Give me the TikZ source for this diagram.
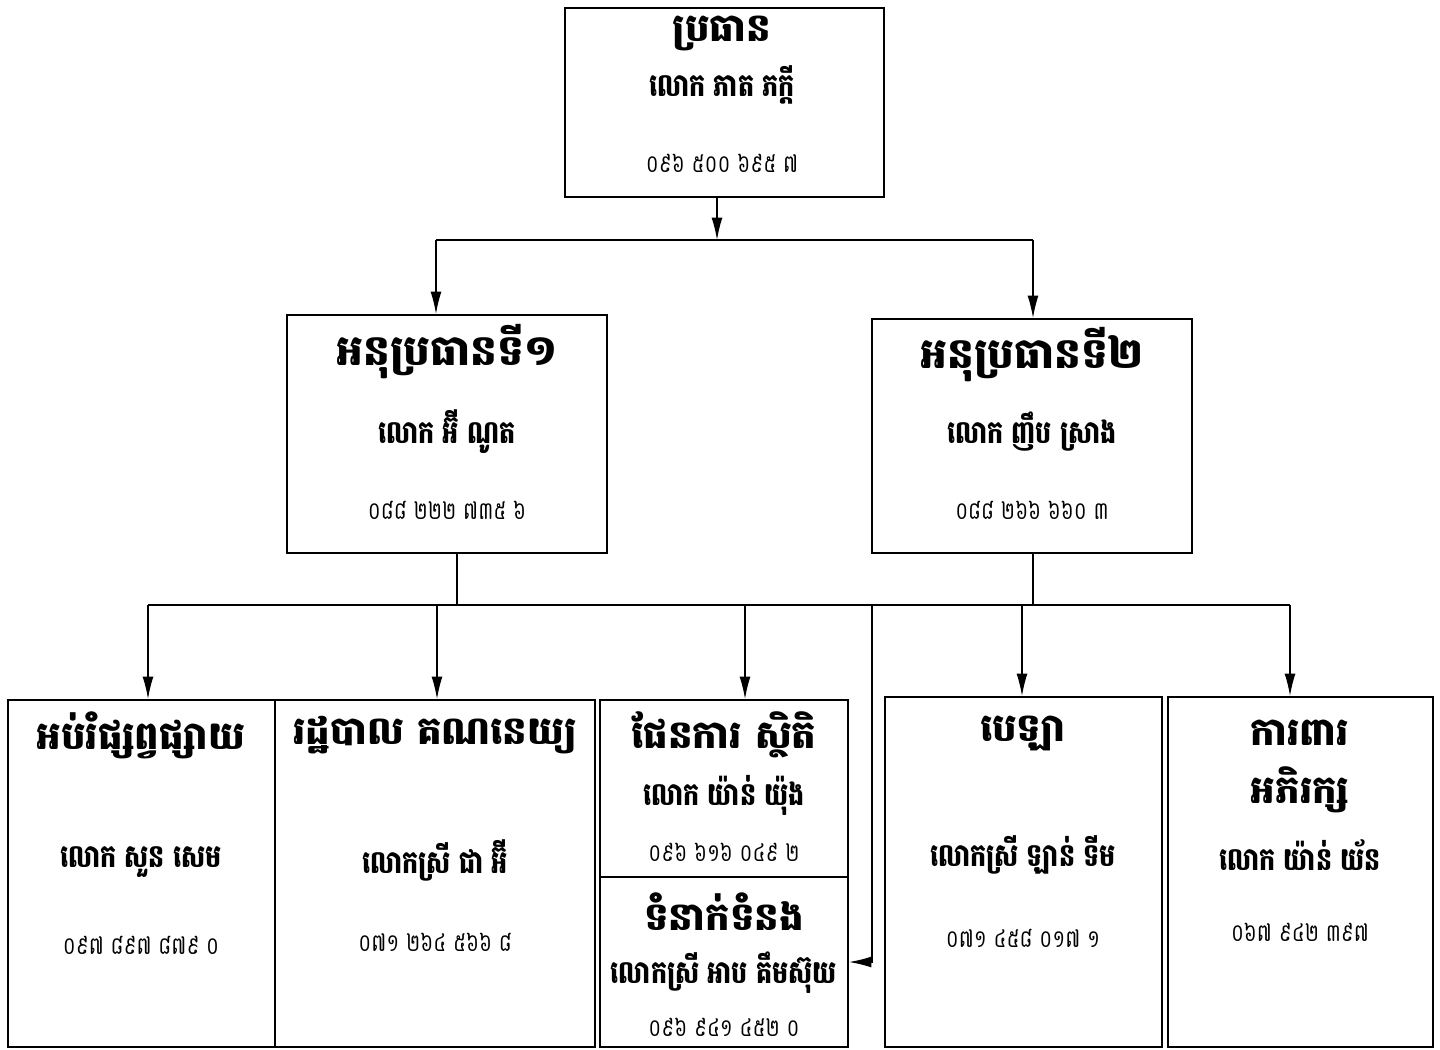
\documentclass[tikz,border=0pt]{standalone}
\usepackage{fontspec}
\newfontfamily\kh[Script=Khmer]{Battambang}
\newfontfamily\khn[Script=Khmer, FakeStretch=0.8]{Battambang}
\usetikzlibrary{arrows.meta}
\tikzset{
  box/.style={draw, line width=1.1pt, inner sep=0pt},
  ttl/.style={font=\kh\bfseries\fontsize{22}{26}\selectfont},
  bigttl/.style={font=\kh\bfseries\fontsize{24}{28}\selectfont},
  nm/.style={font=\khn\bfseries\fontsize{18}{22}\selectfont},
  ph/.style={font=\khn\fontsize{14}{18}\selectfont, inner sep=1pt},
  conn/.style={line width=0.8pt},
  arr/.style={line width=0.8pt, -{Latex[length=4.5mm,width=2.2mm]}},
}
\begin{document}
\begin{tikzpicture}[x=0.02cm, y=-0.02cm]
  \useasboundingbox (0,0) rectangle (1440,1049);
  % boxes
  \node[box, minimum width=6.38cm, minimum height=3.78cm] (chair) at (724.5,102.5) {};
  \node[box, minimum width=6.4cm,  minimum height=4.76cm] (vp1)   at (447,434) {};
  \node[box, minimum width=6.4cm,  minimum height=4.68cm] (vp2)   at (1032,436) {};
  \node[box, minimum width=5.34cm, minimum height=6.94cm] (edu)   at (141.5,873.5) {};
  \node[box, minimum width=6.4cm,  minimum height=6.94cm] (admin) at (435,873.5) {};
  \node[box, minimum width=4.96cm, minimum height=3.54cm] (plan)  at (724,788.5) {};
  \node[box, minimum width=4.96cm, minimum height=3.4cm]  (comm)  at (724,962) {};
  \node[box, minimum width=5.54cm, minimum height=7cm]    (cash)  at (1023.5,872) {};
  \node[box, minimum width=5.3cm,  minimum height=7cm]    (prot)  at (1300.5,872) {};
  % texts
  \node[ttl] (chairT) at (722,33)  {ប្រធាន};
  \node[nm]  (chairN) at (722,85)  {លោក ភាត ភក្តី};
  \node[ph]  (chairP) at (722,163) {០៩៦ ៥០០ ៦៩៥ ៧};
  \node[bigttl] (vp1T) at (447,352) {អនុប្រធានទី១};
  \node[nm]  (vp1N) at (447,432) {លោក អ៊ី ណូត};
  \node[ph]  (vp1P) at (447,510) {០៨៨ ២២២ ៧៣៥ ៦};
  \node[bigttl] (vp2T) at (1032,355) {អនុប្រធានទី២};
  \node[nm]  (vp2N) at (1032,432) {លោក ញឹប ស្រាង};
  \node[ph]  (vp2P) at (1032,510) {០៨៨ ២៦៦ ៦៦០ ៣};
  \node[ttl] (eduT) at (141,735) {អប់រំផ្សព្វផ្សាយ};
  \node[nm]  (eduN) at (141,862) {លោក សួន សេម};
  \node[ph]  (eduP) at (141,945) {០៩៧ ៨៩៧ ៨៧៩ ០};
  \node[ttl] (adminT) at (435,735) {រដ្ឋបាល គណនេយ្យ};
  \node[nm]  (adminN) at (435,860) {លោកស្រី ជា អ៊ី};
  \node[ph]  (adminP) at (435,942) {០៧១ ២៦៤ ៥៦៦ ៨};
  \node[ttl] (planT) at (724,735) {ផែនការ ស្ថិតិ};
  \node[nm]  (planN) at (724,795) {លោក យ៉ាន់ យ៉ុង};
  \node[ph]  (planP) at (724,852) {០៩៦ ៦១៦ ០៤៩ ២};
  \node[ttl] (commT) at (724,912) {ទំនាក់ទំនង};
  \node[nm]  (commN) at (724,973) {លោកស្រី អាប គឹមស៊ុយ};
  \node[ph]  (commP) at (724,1027) {០៩៦ ៩៤១ ៤៥២ ០};
  \node[ttl] (cashT) at (1023,733) {បេឡា};
  \node[nm]  (cashN) at (1023,855) {លោកស្រី ឡាន់ ទីម};
  \node[ph]  (cashP) at (1023,938) {០៧១ ៤៥៨ ០១៧ ១};
  \node[ttl] (protT) at (1300,733) {ការពារ};
  \node[ttl] (protU) at (1300,790) {អភិរក្ស};
  \node[nm]  (protN) at (1300,855) {លោក យ៉ាន់ យ័ន};
  \node[ph]  (protP) at (1300,932) {០៦៧ ៩៤២ ៣៩៧};
  % upper connectors
  \coordinate (t)  at (717,240);
  \coordinate (tl) at (436,240);
  \coordinate (tr) at (1033,240);
  \draw[arr] (chair.south -| t) -- (t);
  \draw[conn] (tl) -- (tr);
  \draw[arr] (tl) -- (vp1.north -| tl);
  \draw[arr] (tr) -- (vp2.north -| tr);
  % lower connectors
  \coordinate (m1) at (457,605);
  \coordinate (m2) at (1033,605);
  \coordinate (bl) at (148,605);
  \coordinate (br) at (1290,605);
  \coordinate (s)  at (872,605);
  \draw[conn] (vp1.south -| m1) -- (m1);
  \draw[conn] (vp2.south -| m2) -- (m2);
  \draw[conn, line width=1.6pt] (bl) -- (br);
  \draw[arr] (bl) -- (edu.north -| bl);
  \draw[arr] (437,605) -- (admin.north -| 437,0);
  \draw[arr] (745,605) -- (plan.north -| 745,0);
  \draw[arr] (1022,605) -- (cash.north -| 1022,0);
  \draw[arr] (br) -- (prot.north -| br);
  \draw[arr] (s) |- (comm.east);
\end{tikzpicture}
\end{document}
